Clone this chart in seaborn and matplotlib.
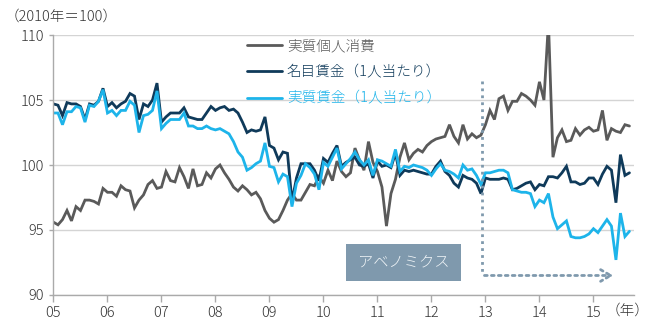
import numpy as np
import pandas as pd
import matplotlib
matplotlib.use("Agg")
import matplotlib.pyplot as plt
import seaborn as sns

# ---- data (monthly, Jan 2005 - Sep 2015, 2010 = 100) ----
consumption = [
    95.6, 95.4, 95.8, 96.5, 95.7, 96.8, 96.5, 97.3, 97.3, 97.2, 97.0, 98.2,
    97.9, 97.9, 97.6, 98.4, 98.1, 98.0, 96.7, 97.3, 97.7, 98.5, 98.8, 98.2,
    98.3, 99.5, 98.8, 98.7, 99.8, 99.1, 98.2, 99.7, 98.4, 98.5, 99.4, 99.0,
    99.7, 100.0, 99.4, 98.9, 98.3, 98.0, 98.4, 98.1, 97.7, 97.9, 97.4, 96.5,
    95.9, 95.6, 95.8, 96.5, 97.3, 97.8, 97.3, 97.3, 97.9, 98.5, 98.4, 99.1,
    98.6, 99.6, 98.8, 100.3, 99.5, 99.1, 99.4, 101.3, 100.4, 99.6, 101.8, 100.2,
    99.5, 98.3, 95.3, 97.8, 98.9, 100.6, 101.7, 100.4, 100.9, 101.2, 101.0, 101.5,
    101.8, 102.0, 102.1, 102.2, 103.1, 102.2, 101.7, 103.1, 102.0, 102.4, 102.1, 102.3,
    103.1, 104.2, 103.5, 105.1, 105.3, 104.2, 104.9, 104.9, 105.5, 105.3, 105.0, 104.6,
    106.4, 105.0, 111.0, 100.6, 102.1, 102.7, 101.8, 101.9, 102.8, 102.3, 102.7, 102.9,
    102.6, 102.7, 104.2, 101.9, 102.8, 102.6, 102.5, 103.1, 103.0,
]
nominal_wage = [
    104.7, 104.6, 103.8, 104.8, 104.7, 104.7, 104.5, 103.5, 104.7, 104.6, 104.9, 105.9,
    104.5, 104.8, 104.4, 104.7, 104.9, 105.5, 105.3, 103.5, 104.7, 104.5, 105.0, 106.3,
    103.3, 103.7, 104.0, 104.0, 104.0, 104.4, 103.7, 103.6, 103.5, 103.5, 104.0, 104.5,
    104.2, 104.4, 104.5, 104.2, 104.3, 104.0, 103.3, 102.5, 102.7, 102.6, 102.7, 103.7,
    101.5, 101.3, 100.4, 101.0, 100.9, 97.2, 99.0, 100.1, 100.1, 100.1, 99.6, 98.8,
    100.5, 100.2, 100.9, 101.5, 99.9, 100.2, 100.4, 100.6, 100.0, 99.9, 100.1, 99.0,
    100.3, 99.9, 100.0, 99.8, 100.9, 99.2, 99.6, 99.5, 99.6, 99.5, 99.4, 99.3,
    99.3, 99.9, 100.3, 99.5, 99.2, 98.6, 98.3, 99.2, 99.0, 98.9, 98.6, 97.8,
    99.0, 98.9, 98.9, 98.9, 99.0, 98.9, 98.1, 98.2, 98.4, 98.6, 98.7, 98.1,
    98.5, 98.4, 99.1, 99.1, 99.0, 99.4, 99.9, 98.7, 98.7, 98.5, 98.6, 99.0,
    99.0, 98.5, 99.3, 99.9, 99.6, 97.1, 100.8, 99.2, 99.4,
]
real_wage = [
    104.0, 104.0, 103.1, 104.1, 104.1, 104.5, 104.4, 103.3, 104.6, 104.5, 104.9, 105.8,
    104.0, 104.2, 103.8, 104.2, 104.2, 104.9, 104.6, 102.5, 103.8, 103.9, 104.2, 105.7,
    102.8, 103.2, 103.5, 103.5, 103.5, 104.0, 103.0, 103.0, 102.8, 102.8, 103.0, 102.8,
    102.7, 102.8, 102.6, 102.4, 101.8, 101.0, 100.6, 99.6, 99.8, 100.1, 100.3, 101.7,
    99.9, 99.8, 98.7, 99.3, 99.1, 96.8, 98.6, 99.2, 100.1, 99.8, 99.3, 98.1,
    100.2, 99.9, 100.6, 101.3, 99.7, 100.1, 100.5, 101.0, 100.4, 100.0, 100.4, 99.2,
    100.4, 100.3, 100.1, 99.9, 101.2, 99.5, 99.9, 99.8, 100.0, 99.9, 99.8, 99.6,
    99.2, 99.7, 100.1, 99.6, 99.5, 99.3, 99.0, 100.0, 99.6, 99.7, 99.2, 98.5,
    99.4, 99.4, 99.5, 99.6, 99.6, 99.4, 98.1, 98.0, 97.9, 97.9, 97.8, 96.8,
    97.3, 97.1, 97.8, 96.0, 95.1, 95.4, 95.7, 94.5, 94.4, 94.4, 94.5, 94.7,
    95.1, 94.8, 95.3, 95.8, 95.3, 92.7, 96.3, 94.5, 94.9,
]
series_names = ["実質個人消費", "名目賃金（1人当たり）", "実質賃金（1人当たり）"]
series_colors = ["#5a5a5a", "#0f3a5a", "#1db4ea"]
year_ticks = list(range(2005, 2016))
year_labels = ["05", "06", "07", "08", "09", "10", "11", "12", "13", "14", "15"]

n = len(consumption)
t = 2005 + np.arange(n) / 12.0
df = pd.DataFrame({
    "t": np.tile(t, 3),
    "value": consumption + nominal_wage + real_wage,
    "series": np.repeat(series_names, n),
})

sns.set_theme(style="white")
plt.rcParams["font.family"] = ["Noto Sans CJK JP", "DejaVu Sans"]
plt.rcParams["font.weight"] = "light"

fig = plt.figure(figsize=(6.5, 3.27), dpi=100)
ax = fig.add_axes([0.0823, 0.0979, 0.893, 0.795])

for name, color in zip(series_names, series_colors):
    sns.lineplot(data=df[df["series"] == name], x="t", y="value", color=color,
                 linewidth=2.0, label=name, ax=ax, solid_joinstyle="miter")

ax.set_xlim(2005, 2005 + 129 / 12)
ax.set_ylim(90, 110)
ax.set_yticks([90, 95, 100, 105, 110])
ax.set_xticks(year_ticks)
ax.set_xticklabels(year_labels)
ax.set_xlabel("")
ax.set_ylabel("")
ax.grid(axis="y", color="#d4d4d4", linewidth=1.0)
ax.grid(axis="x", visible=False)
for s in ["top", "right"]:
    ax.spines[s].set_visible(False)
for s in ["left", "bottom"]:
    ax.spines[s].set_color("#aaaaaa")
    ax.spines[s].set_linewidth(1.0)
ax.tick_params(axis="x", direction="out", length=5, width=1, color="#aaaaaa",
               labelsize=10.5, labelcolor="#333333", pad=3, bottom=True)
ax.tick_params(axis="y", direction="out", length=3, width=1, color="#aaaaaa",
               labelsize=10.5, labelcolor="#333333", pad=4, left=True)

leg = ax.legend(loc="upper left", bbox_to_anchor=(0.333, 0.985), frameon=False,
                fontsize=10.5, handlelength=2.4, handletextpad=0.35,
                labelspacing=0.85, borderpad=0, borderaxespad=0)
for txt, color in zip(leg.get_texts(), series_colors):
    txt.set_color(color)

# Abenomics annotation
slate = "#7f99ad"
box_x0, box_x1, box_y0, box_y1 = 2010.42, 2012.55, 91.1, 93.9
ax.add_patch(plt.Rectangle((box_x0, box_y0), box_x1 - box_x0, box_y1 - box_y0,
                           facecolor=slate, edgecolor="none", zorder=3))
ax.text((box_x0 + box_x1) / 2, (box_y0 + box_y1) / 2, "アベノミクス", color="#eef3f6",
        fontsize=11, ha="center", va="center", zorder=4)
start_x = 2012.93
ax.plot([start_x, start_x], [106.5, 91.5], linestyle=(0, (1, 1.5)), color=slate,
        linewidth=2.0, zorder=2)
ax.annotate("", xy=(2015.42, 91.5), xytext=(start_x, 91.5),
            arrowprops=dict(arrowstyle="->,head_length=0.6,head_width=0.35",
                            color=slate, linewidth=2.0, linestyle=(0, (1, 1.5))),
            zorder=2)

fig.text(5 / 650, 1 - 17 / 327, "（2010年＝100）", fontsize=10.5, color="#333333",
         ha="left", va="center")
fig.text(628 / 650, 1 - 311 / 327, "（年）", fontsize=10.5, color="#333333",
         ha="center", va="center")

fig.savefig("out.png", dpi=100)
